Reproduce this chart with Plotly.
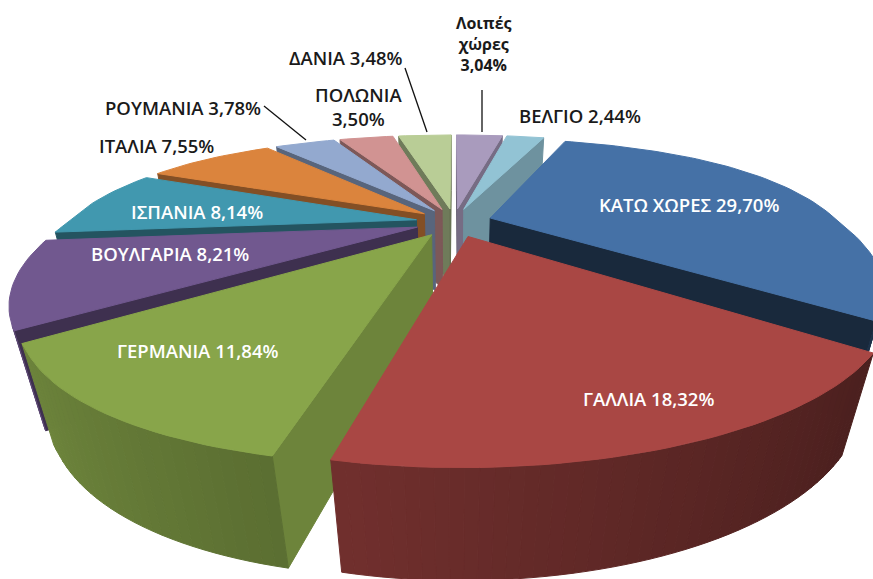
import math
import plotly.graph_objects as go

# Data, clockwise from 12 o'clock
categories = ["Λοιπές χώρες", "ΒΕΛΓΙΟ", "ΚΑΤΩ ΧΩΡΕΣ", "ΓΑΛΛΙΑ", "ΓΕΡΜΑΝΙΑ", "ΒΟΥΛΓΑΡΙΑ",
              "ΙΣΠΑΝΙΑ", "ΙΤΑΛΙΑ", "ΡΟΥΜΑΝΙΑ", "ΠΟΛΩΝΙΑ", "ΔΑΝΙΑ"]
shares = [3.04, 2.44, 29.70, 18.32, 11.84, 8.21, 8.14, 7.55, 3.78, 3.50, 3.48]

# Styles
colors = ["#a99bbd", "#92c3d4", "#4571a6", "#a94744", "#88a54a", "#71588f",
          "#4198af", "#db843d", "#93a9cf", "#d19392", "#b9cd96"]
start_shade = [.6, .6, .6, .6, .8, .55, .55, .6, .6, .6, .6]
end_shade = [.7, .75, .36, .4, .5, .55, .55, .6, .55, .55, .55]

# Projection parameters
CX, CY = 454, 222
A, B, H = 357, 134, 87
K, C, Q = .46, .077, .058
SHEAR = .066
PULL = .11


def project(x, y, z):
    w = 1 + K * y + C * y * y + Q * z
    back = max(0, y)
    front = max(0, -y - .7) / .39
    waist = 1 - .025 * max(0, 1 - abs(y) * 1.5)
    px = CX + A * (x * (1 + .07 * back) * waist + SHEAR * min(0, y + .7)) / w
    py = CY + (-B * y * (1 - .06 * (back > 0)) * (1 - .025 * front) + H * z) / w
    return px, py


def area(points):
    return sum(p[0] * q[1] - q[0] * p[1] for p, q in zip(points, points[1:] + points[:1]))


def rgb(hex_color, f):
    r, g, b = (int(hex_color[i:i + 2], 16) for i in (1, 3, 5))
    return f"rgb({r * f:.0f},{g * f:.0f},{b * f:.0f})"


def wall_shade(t):
    return .62 - .22 * math.sin(t)


fig = go.Figure()


def poly(points, color, name):
    xs = [p[0] for p in points] + [points[0][0]]
    ys = [p[1] for p in points] + [points[0][1]]
    fig.add_trace(go.Scatter(x=xs, y=ys, mode="lines", fill="toself", fillcolor=color,
                             line=dict(color=color, width=1), hoverinfo="text",
                             text=name, showlegend=False))


total = sum(shares)
slices = []
acc = 0
for i, v in enumerate(shares):
    t0 = acc / total * 2 * math.pi
    acc += v
    t1 = acc / total * 2 * math.pi
    slices.append((i, t0, t1, (t0 + t1) / 2))

for i, t0, t1, mid in sorted(slices, key=lambda s: -math.cos(s[3])):
    ex, ey = PULL * math.sin(mid), PULL * math.cos(mid)
    name = f"{categories[i]} {shares[i]:.2f}%".replace(".", ",")
    n = max(4, int((t1 - t0) * 40))
    ts = [t0 + (t1 - t0) * j / n for j in range(n + 1)]

    def rim(t, z):
        return project(ex + math.sin(t), ey + math.cos(t), z)

    apex0, apex1 = project(ex, ey, 0), project(ex, ey, 1)
    # only the faces that look towards the viewer are drawn
    wall_a = [apex0, rim(t0, 0), rim(t0, 1), apex1]
    wall_b = [apex0, rim(t1, 0), rim(t1, 1), apex1]
    if area(wall_a) < 0:
        poly(wall_a, rgb(colors[i], start_shade[i]), name)
    if area(wall_b) > 0:
        poly(wall_b, rgb(colors[i], end_shade[i]), name)
    for a, b in zip(ts[:-1], ts[1:]):
        facet = [rim(a, 0), rim(b, 0), rim(b, 1), rim(a, 1)]
        if area(facet) < 0:
            poly(facet, rgb(colors[i], wall_shade((a + b) / 2)), name)
    poly([apex0] + [rim(t, 0) for t in ts], colors[i], name)

FONT = "Open Sans"
label_list = [
    ("Λοιπές<br>χώρες<br>3,04%", 484, 44, "#1a1a1a", 16, 700),
    ("ΒΕΛΓΙΟ 2,44%", 580, 115, "#1a1a1a", 18.5, 600),
    ("ΚΑΤΩ ΧΩΡΕΣ 29,70%", 689, 204, "white", 18.5, 600),
    ("ΓΑΛΛΙΑ 18,32%", 648, 398, "white", 18.5, 600),
    ("ΓΕΡΜΑΝΙΑ 11,84%", 197, 350, "white", 18.5, 600),
    ("ΒΟΥΛΓΑΡΙΑ 8,21%", 170, 253, "white", 18.5, 600),
    ("ΙΣΠΑΝΙΑ 8,14%", 197, 211, "white", 18.5, 600),
    ("ΙΤΑΛΙΑ 7,55%", 156, 145, "#1a1a1a", 18.5, 600),
    ("ΡΟΥΜΑΝΙΑ 3,78%", 183, 107, "#1a1a1a", 18.5, 600),
    ("ΠΟΛΩΝΙΑ<br>3,50%", 358, 106, "#1a1a1a", 18.5, 600),
    ("ΔΑΝΙΑ 3,48%", 346, 57, "#1a1a1a", 18.5, 600),
]
for text, x, y, col, size, weight in label_list:
    fig.add_annotation(x=x, y=y, text=text, showarrow=False,
                       font=dict(family=FONT, size=size, color=col, weight=weight), align="center")

for x0, y0, x1, y1 in [(264, 106, 306, 140), (405, 68, 427, 132), (482, 90, 482, 132)]:
    fig.add_shape(type="line", x0=x0, y0=y0, x1=x1, y1=y1, line=dict(color="#111", width=1.3))

fig.update_layout(width=873, height=579, margin=dict(l=0, r=0, t=0, b=0), paper_bgcolor="white",
                  plot_bgcolor="white", showlegend=False,
                  xaxis=dict(range=[0, 873], visible=False, fixedrange=True),
                  yaxis=dict(range=[579, 0], visible=False, fixedrange=True))
fig.write_html("out.html", post_script="document.body.style.margin='0';document.body.style.overflow='hidden';",
               config={"displayModeBar": False})
